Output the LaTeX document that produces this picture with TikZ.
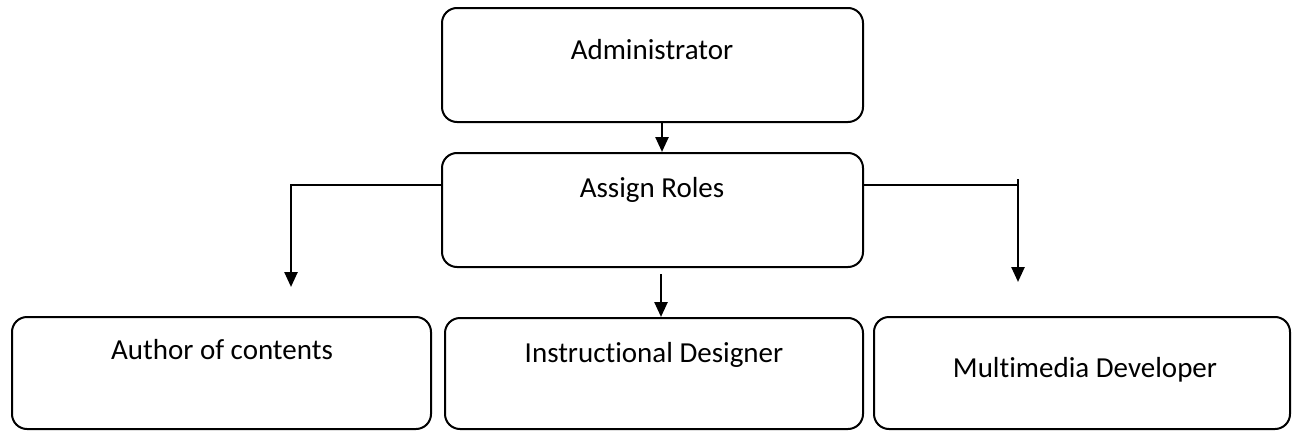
\documentclass[tikz,border=0pt]{standalone}
\usepackage{fontspec}
\setmainfont{Carlito}[Ligatures=NoCommon]
\usetikzlibrary{arrows.meta}
\begin{document}
\begin{tikzpicture}[x=1pt,y=-1pt,
  box/.style={draw, line width=2pt, rounded corners=15pt, inner sep=0pt},
  lbl/.style={font=\fontsize{29}{34}\selectfont, anchor=base, inner sep=0pt},
  arr/.style={line width=2.5pt, -{Triangle[width=13pt,length=15pt]}},
  ln/.style={line width=2.5pt}]
\useasboundingbox (0,0) rectangle (1293,431);
\node[box, minimum width=421pt, minimum height=114pt] (adm) at (652.5,65) {};
\node[box, minimum width=421pt, minimum height=114pt] (ass) at (652.5,210) {};
\node[box, minimum width=419pt, minimum height=112pt] (aut) at (221.5,373) {};
\node[box, minimum width=418pt, minimum height=111pt] (ins) at (654,373.5) {};
\node[box, minimum width=416pt, minimum height=112pt] (mul) at (1082,373) {};
\node[lbl] (admt) at (652,59) {Administrator};
\node[lbl] (asst) at (652,197) {Assign Roles};
\node[lbl] (autt) at (222,359) {Author of contents};
\node[lbl] (inst) at (654,362) {Instructional Designer};
\node[lbl] (mult) at (1085,377) {Multimedia Developer};
\coordinate (la) at (291,287);
\coordinate (rt) at (1018,185);
\coordinate (rtop) at (1018,179);
\coordinate (ra) at (1018,282);
\draw[arr] ([xshift=9.5pt]adm.south) -- ([xshift=9.5pt]ass.north);
\draw[arr] ([xshift=8.5pt,yshift=-6pt]ass.south) -- ([xshift=7pt]ins.north);
\draw[arr] ([yshift=25pt]ass.west) -| (la);
\draw[ln] ([yshift=25pt]ass.east) -- (rt);
\draw[arr] (rtop) -- (ra);
\end{tikzpicture}
\end{document}
